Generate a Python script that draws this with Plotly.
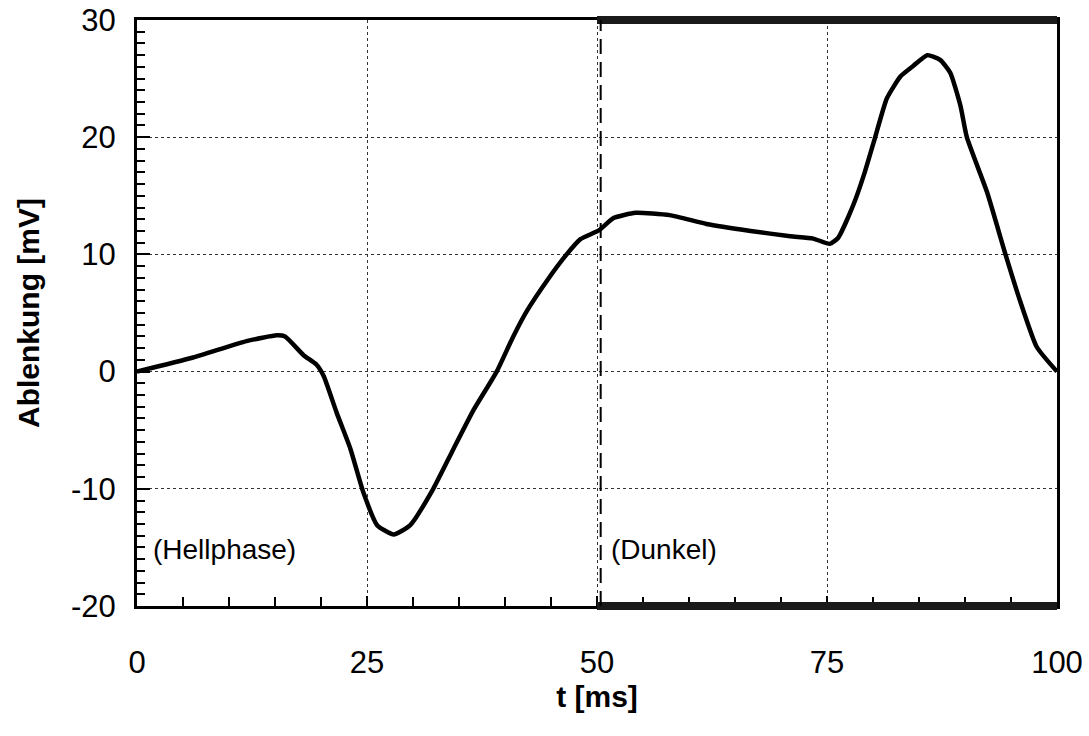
import plotly.graph_objects as go

# Messkurve (Ablenkung über Zeit)
t_ms = [0, 6.1, 11.9, 15.2, 16.1, 18.1, 19.5, 20.3, 21.7, 23.2, 24.6, 26.1, 27.9,
        29.7, 32.2, 34.4, 36.6, 39.1, 40.9, 42.4, 44.6, 46.7, 48.2, 50.2, 51.8,
        54.2, 57.9, 61.9, 66.7, 71.0, 73.5, 75.3, 76.2, 77.9, 79.1, 80.2, 81.5,
        83.0, 84.4, 85.9, 87.3, 88.4, 89.5, 90.2, 92.4, 94.4, 96.0, 97.8, 100]
ablenkung_mv = [0, 1.2, 2.6, 3.1, 3.0, 1.4, 0.6, -0.4, -3.5, -6.6, -10.3, -13.1, -13.9,
                -13.1, -10.0, -6.6, -3.25, 0, 3.0, 5.2, 7.8, 10.0, 11.3, 12.05, 13.1,
                13.55, 13.35, 12.6, 12.0, 11.55, 11.35, 10.9, 11.4, 14.3, 17.0, 19.9, 23.3,
                25.2, 26.1, 27.0, 26.6, 25.5, 22.7, 20.0, 15.3, 10.0, 6.0, 2.1, 0]

x_ticks = [0, 25, 50, 75, 100]
y_ticks = [-20, -10, 0, 10, 20, 30]
y_ticktext = ['-20', '-10', '0', '10', '20', '30']

dunkel_start = 50
dunkel_end = 100
marker_x = 50.4

fig = go.Figure()
fig.add_trace(go.Scatter(x=t_ms, y=ablenkung_mv, mode='lines',
                         line=dict(color='black', width=4.5, shape='spline', smoothing=0.5),
                         showlegend=False))

# Dunkelphase: dicke Rahmenstücke oben/unten + gestrichelte Linie
for yy in [0, 1]:
    fig.add_shape(type='line', xref='x', yref='paper', x0=dunkel_start, x1=dunkel_end,
                  y0=yy, y1=yy, line=dict(color='#1a1a1a', width=8))
fig.add_shape(type='line', xref='x', yref='paper', x0=marker_x, x1=marker_x, y0=0, y1=1,
              line=dict(color='black', width=2, dash='15px,8px'))

fig.add_annotation(x=1.5, y=-15.2, text='(Hellphase)', showarrow=False, xanchor='left',
                   font=dict(size=28, color='black'))
fig.add_annotation(x=51.3, y=-15.2, text='(Dunkel)', showarrow=False, xanchor='left',
                   font=dict(size=28, color='black'))

font = 'Liberation Sans, Arial, sans-serif'
fig.update_layout(
    width=1089, height=736,
    margin=dict(l=137, r=32, t=20, b=130),
    paper_bgcolor='white', plot_bgcolor='white',
    font=dict(family=font, color='black'),
)
fig.update_xaxes(
    range=[0, 100], tickvals=x_ticks, ticks='inside', ticklen=10, tickwidth=2,
    tickcolor='black', tickfont=dict(size=31), ticklabelstandoff=27,
    ticklabeloverflow='allow',
    minor=dict(dtick=5, ticks='inside', ticklen=9, tickwidth=2, tickcolor='black'),
    showline=True, linecolor='black', linewidth=3, mirror=True,
    showgrid=True, gridcolor='#333', gridwidth=1, griddash='dot',
    zeroline=False, automargin=False,
    title=dict(text='<b>t [ms]</b>', font=dict(size=30), standoff=6),
)
fig.update_yaxes(
    range=[-20, 30], tickvals=y_ticks, ticktext=y_ticktext, ticks='inside', ticklen=13,
    tickwidth=2, tickcolor='black', tickfont=dict(size=31), ticklabelstandoff=12,
    ticklabeloverflow='allow',
    minor=dict(dtick=1, ticks='inside', ticklen=8, tickwidth=2, tickcolor='black'),
    showline=True, linecolor='black', linewidth=3, mirror=True,
    showgrid=True, gridcolor='#333', gridwidth=1, griddash='dot',
    zeroline=False, automargin=False,
    title=dict(text='<b>Ablenkung [mV]</b>', font=dict(size=30), standoff=23),
)

# body-Rand der Seite entfernen, damit die Figur bei 0,0 beginnt
fig.write_html('out.html', config={'displayModeBar': False},
               post_script="document.body.style.margin='0';")
